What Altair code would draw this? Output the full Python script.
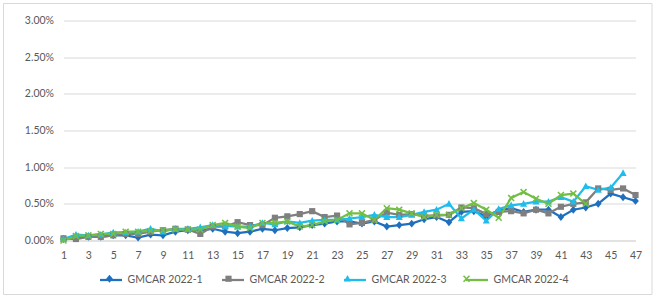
import altair as alt
import pandas as pd

FONT = "Lato"

periods = list(range(1, 48))
series_names = ["GMCAR 2022-1", "GMCAR 2022-2", "GMCAR 2022-3", "GMCAR 2022-4"]

# values in percent
s1 = [0.02, 0.05, 0.05, 0.05, 0.07, 0.07, 0.04, 0.08, 0.07, 0.12,
      0.14, 0.14, 0.16, 0.12, 0.10, 0.12, 0.16, 0.14, 0.17, 0.18,
      0.21, 0.23, 0.26, 0.26, 0.23, 0.26, 0.19, 0.21, 0.23, 0.29,
      0.32, 0.25, 0.39, 0.40, 0.33, 0.41, 0.44, 0.39, 0.42, 0.42,
      0.32, 0.42, 0.45, 0.50, 0.64, 0.59, 0.54]
s2 = [0.03, 0.02, 0.05, 0.05, 0.07, 0.09, 0.09, 0.12, 0.14, 0.16,
      0.15, 0.09, 0.19, 0.19, 0.25, 0.21, 0.21, 0.31, 0.33, 0.36,
      0.40, 0.32, 0.34, 0.22, 0.24, 0.28, 0.38, 0.35, 0.36, 0.34,
      0.34, 0.35, 0.45, 0.44, 0.36, 0.39, 0.40, 0.37, 0.42, 0.37,
      0.46, 0.50, 0.52, 0.71, 0.69, 0.71, 0.62]
s3 = [0.02, 0.08, 0.07, 0.08, 0.11, 0.11, 0.12, 0.16, 0.12, 0.16,
      0.16, 0.18, 0.21, 0.20, 0.19, 0.19, 0.24, 0.22, 0.26, 0.24,
      0.27, 0.28, 0.28, 0.30, 0.32, 0.35, 0.32, 0.32, 0.35, 0.39,
      0.42, 0.50, 0.30, 0.42, 0.27, 0.43, 0.48, 0.50, 0.53, 0.53,
      0.59, 0.53, 0.74, 0.69, 0.72, 0.92]
s4 = [0.00, 0.06, 0.07, 0.09, 0.09, 0.12, 0.12, 0.13, 0.14, 0.15,
      0.15, 0.15, 0.21, 0.24, 0.19, 0.17, 0.24, 0.24, 0.26, 0.19,
      0.21, 0.26, 0.28, 0.37, 0.37, 0.28, 0.44, 0.42, 0.37, 0.32,
      0.35, 0.35, 0.44, 0.51, 0.42, 0.31, 0.58, 0.66, 0.57, 0.50,
      0.62, 0.64, 0.50]

colors = ["#1F6FBF", "#7F7F7F", "#1FBDEB", "#72BF44"]
marker_paths = [
    "M0,-0.36L0.3,0L0,0.36L-0.3,0Z",
    "M-0.28,-0.28H0.28V0.28H-0.28Z",
    "M0,-0.34L0.32,0.26H-0.32Z",
    "M-0.32,-0.22L-0.22,-0.32L0,-0.1L0.22,-0.32L0.32,-0.22L0.1,0L0.32,0.22L0.22,0.32L0,0.1L-0.22,0.32L-0.32,0.22L-0.1,0Z",
]

rows = []
for name, vals in zip(series_names, [s1, s2, s3, s4]):
    for p, v in zip(periods, vals):
        rows.append({"period": p, "series": name, "rate": v / 100})
df = pd.DataFrame(rows)

W, H = 572, 220

x = alt.X("period:Q",
          scale=alt.Scale(domain=[1, 47], nice=False, zero=False),
          axis=alt.Axis(values=list(range(1, 48, 2)), title=None, grid=False,
                        ticks=False, domain=True, domainColor="#D9D9D9",
                        domainWidth=1, labelPadding=10, labelFont=FONT,
                        labelFontSize=10.5, labelColor="#595959",
                        labelFlush=False))
y = alt.Y("rate:Q",
          scale=alt.Scale(domain=[0, 0.03], nice=False),
          axis=alt.Axis(values=[0, 0.005, 0.01, 0.015, 0.02, 0.025, 0.03],
                        format=".2%", title=None, ticks=False, domain=False,
                        gridColor="#D9D9D9", gridWidth=1, labelPadding=10,
                        labelFont=FONT, labelFontSize=10.5,
                        labelColor="#595959"))

LEG_X, LEG_Y, COL_PAD, LABEL_W = 35, 247, 14, 79

leg_common = dict(orient="none", direction="horizontal", legendX=LEG_X,
                  legendY=LEG_Y, title=None, labelFont=FONT,
                  labelFontSize=10.5, labelColor="#595959", symbolSize=484,
                  labelOffset=4)

base = alt.Chart(df)

lines = base.mark_line(strokeWidth=2.25).encode(
    x=x, y=y,
    stroke=alt.Stroke("series:N",
                      scale=alt.Scale(domain=series_names, range=colors),
                      legend=alt.Legend(symbolType="stroke",
                                        symbolStrokeWidth=2.25,
                                        columnPadding=COL_PAD, **leg_common)),
)

marker_legend = alt.Legend(symbolStrokeWidth=0, labelExpr="''", zindex=2,
                           columnPadding=COL_PAD + LABEL_W, **leg_common)
points = base.mark_point(filled=True, size=484, opacity=1).encode(
    x=x, y=y,
    color=alt.Color("series:N", scale=alt.Scale(range=colors),
                    legend=marker_legend),
    shape=alt.Shape("series:N", scale=alt.Scale(range=marker_paths),
                    legend=marker_legend),
)

frame = alt.Chart(pd.DataFrame({"a": [1]})).mark_rect(
    filled=False, stroke="#D9D9D9", strokeWidth=1
).encode(
    x=alt.value(-60), x2=alt.value(588.5),
    y=alt.value(-17), y2=alt.value(274),
)

chart = alt.layer(frame, lines, points).properties(
    width=W, height=H,
    padding={"left": 2.5, "top": 2.5, "right": 2, "bottom": 2},
    background="white",
).configure_view(stroke=None)

chart.save("out.html", embed_options={"renderer": "svg", "actions": False})
